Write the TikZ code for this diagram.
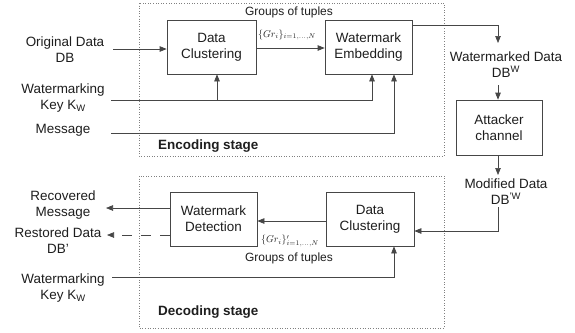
\documentclass[tikz,border=0pt]{standalone}
\usepackage{fontspec}
\setmainfont{Liberation Sans}
\newfontfamily\serifit{Liberation Serif}
\usetikzlibrary{arrows.meta}
\definecolor{linec}{RGB}{70,70,70}
\definecolor{txtc}{RGB}{30,30,30}
\begin{document}
\begin{tikzpicture}[x=1bp,y=-1bp,
  every node/.style={text=txtc},
  lbl/.style={font=\fontsize{13.5}{16}\selectfont, align=center, inner sep=0pt},
  boxnode/.style={draw=linec, line width=0.7pt, align=center, font=\fontsize{13.5}{16}\selectfont, inner sep=0pt},
  small/.style={font=\fontsize{12}{14}\selectfont, inner sep=0pt},
  grl/.style={font=\fontsize{10}{12}\selectfont, inner sep=0pt},
  stage/.style={font=\bfseries\fontsize{13.5}{16}\selectfont, anchor=west, inner sep=0pt},
  frame/.style={draw=gray, dotted, line width=0.6pt},
  conn/.style={draw=linec, line width=0.7pt},
  arr/.style={conn, -{Triangle[length=7bp,width=5.5bp]}},
]
\useasboundingbox (0,0) rectangle (575,332);
\fill[white] (0,0) rectangle (575,332);

% stage frames
\draw[frame] (139,3) rectangle (444,156);
\draw[frame] (139,176) rectangle (444,328);

% boxes
\node[boxnode, minimum width=89bp, minimum height=54bp] (dc1) at (211.5,47) {Data\\Clustering};
\node[boxnode, minimum width=87bp, minimum height=54bp] (we) at (368.5,47) {Watermark\\Embedding};
\node[boxnode, minimum width=86bp, minimum height=55bp] (att) at (499,127.5) {Attacker\\channel};
\node[boxnode, minimum width=88bp, minimum height=54bp] (dc2) at (370,219) {Data\\Clustering};
\node[boxnode, minimum width=87bp, minimum height=54bp] (wd) at (213.5,219) {Watermark\\Detection};

% text nodes
\node[lbl] (orig) at (65,50) {Original Data\\DB};
\node[lbl] (key1) at (63,98) {Watermarking\\Key K\textsubscript{W}};
\node[lbl] (msg) at (63,130) {Message};
\node[lbl] (wmd) at (506,65) {Watermarked Data\\DB\textsuperscript{W}};
\node[lbl] (mod) at (506,192) {Modified Data\\DB\textsuperscript{'W}};
\node[lbl] (rec) at (63,205) {Recovered\\Message};
\node[lbl] (rest) at (58,241) {Restored Data\\DB'};
\node[lbl] (key2) at (63,288) {Watermarking\\Key K\textsubscript{W}};

\node[small] (g1) at (289,12) {Groups of tuples};
\node[grl] (gr1) at (287,35) {$\{Gr_i\}_{i=1,\ldots,N}$};
\node[grl] (gr2) at (290,241) {$\{Gr_i\}'_{i=1,\ldots,N}$};
\node[small] (g2) at (289,258) {Groups of tuples};

\node[stage] (enc) at (158,146) {Encoding stage};
\node[stage] (dec) at (158,312) {Decoding stage};

% free-end coordinates
\coordinate (o1) at (113,49);
\coordinate (k1) at (111,100);
\coordinate (m1) at (111,133);
\coordinate (k2) at (112,277);
\coordinate (recend) at (106,208);
\coordinate (restend) at (107,235);
\coordinate (wmdtop) at (498,43);
\coordinate (wmdbot) at (498,85);
\coordinate (modtop) at (498,175);
\coordinate (modbot) at (498,207);

% encoding connectors
\draw[arr] (o1) -- (o1 -| dc1.west);
\draw[arr] (dc1.east |- 0,48) -- (we.west |- 0,48);
\draw[arr] (k1) -- (372,100) -- (372,100 |- we.south);
\draw[arr] (217,100) -- (217,100 |- dc1.south);
\draw[arr] (m1) -- (394,133) -- (394,133 |- we.south);
\draw[arr] (we.east |- 0,25) -| (wmdtop);
\draw[arr] (wmdbot) -- (wmdbot |- att.north);
\draw[arr] (att.south -| modtop) -- (modtop);

% decoding connectors
\draw[arr] (modbot) -- (498,231) -- (dc2.east |- 0,231);
\draw[arr] (dc2.west |- 0,221) -- (wd.east |- 0,221);
\draw[arr] (wd.west |- recend) -- (recend);
\draw[conn, dash pattern=on 10bp off 9bp, -{Triangle[length=7bp,width=5.5bp]}] (wd.west |- restend) -- (restend);
\draw[arr] (k2) -- (394,277) -- (394,277 |- dc2.south);
\end{tikzpicture}
\end{document}
